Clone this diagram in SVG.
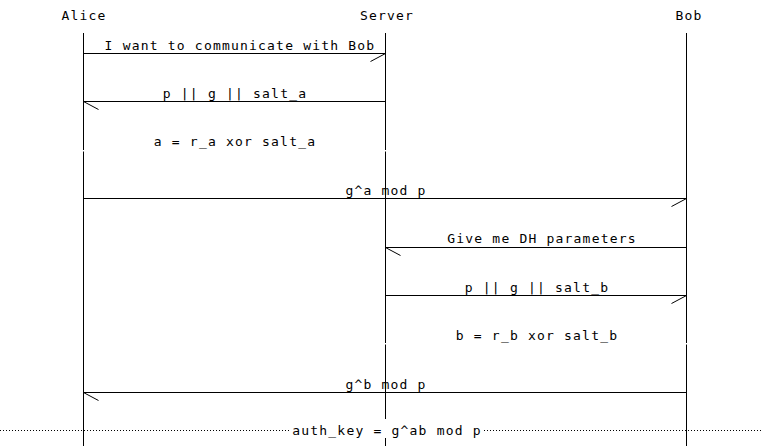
<svg xmlns="http://www.w3.org/2000/svg" width="763" height="446" viewBox="0 0 763 446">
  <style>
    text { font-family: "DejaVu Sans Mono", "Liberation Mono", monospace; font-size: 13px; letter-spacing: 1.2px; fill: #000; text-anchor: middle; }
    .life { stroke: #000; stroke-width: 1; fill: none; }
    .msg { stroke: #000; stroke-width: 1; fill: none; }
    .sep { stroke: #000; stroke-width: 1; stroke-dasharray: 1 2; fill: none; }
  </style>
  <defs>
    <!-- half arrowheads: the barb always hangs below the line -->
    <marker id="head-r" markerUnits="userSpaceOnUse" markerWidth="20" markerHeight="12" refX="16" refY="1" orient="0" overflow="visible">
      <path d="M16 1 L1 9" stroke="#000" stroke-width="1" fill="none"/>
    </marker>
    <marker id="head-l" markerUnits="userSpaceOnUse" markerWidth="20" markerHeight="12" refX="1" refY="1" orient="0" overflow="visible">
      <path d="M1 1 L16 9" stroke="#000" stroke-width="1" fill="none"/>
    </marker>
  </defs>
  <rect width="763" height="446" fill="#fff"/>

  <!-- participants -->
  <g id="alice">
    <text x="84" y="20">Alice</text>
    <path class="life" d="M83.5 33 V150 M83.5 151.5 V446"/>
  </g>
  <g id="server">
    <text x="387" y="20">Server</text>
    <path class="life" d="M385.5 33 V150 M385.5 151.5 V343 M385.5 344.5 V419 M385.5 438 V446"/>
  </g>
  <g id="bob">
    <text x="689" y="20">Bob</text>
    <path class="life" d="M686.5 33 V343 M686.5 344.5 V446"/>
  </g>

  <!-- messages -->
  <g id="connectors">
    <line class="msg" x1="83.5" y1="53.5" x2="385.5" y2="53.5" marker-end="url(#head-r)"/>
    <line class="msg" x1="385.5" y1="101.5" x2="83.5" y2="101.5" marker-end="url(#head-l)"/>
    <line class="msg" x1="83.5" y1="198.5" x2="686.5" y2="198.5" marker-end="url(#head-r)"/>
    <line class="msg" x1="686.5" y1="247.5" x2="385.5" y2="247.5" marker-end="url(#head-l)"/>
    <line class="msg" x1="385.5" y1="295.5" x2="686.5" y2="295.5" marker-end="url(#head-r)"/>
    <line class="msg" x1="686.5" y1="392.5" x2="83.5" y2="392.5" marker-end="url(#head-l)"/>
    <path class="sep" d="M0 430.5 H289 M484 430.5 H763"/>
  </g>

  <!-- labels -->
  <g id="labels">
    <text x="240" y="50">I want to communicate with Bob</text>
    <text x="235" y="98">p || g || salt_a</text>
    <text x="235" y="146">a = r_a xor salt_a</text>
    <text x="386" y="195">g^a mod p</text>
    <text x="542" y="243">Give me DH parameters</text>
    <text x="537" y="292">p || g || salt_b</text>
    <text x="537" y="340">b = r_b xor salt_b</text>
    <text x="386" y="389">g^b mod p</text>
    <text x="387" y="435">auth_key = g^ab mod p</text>
  </g>
</svg>
